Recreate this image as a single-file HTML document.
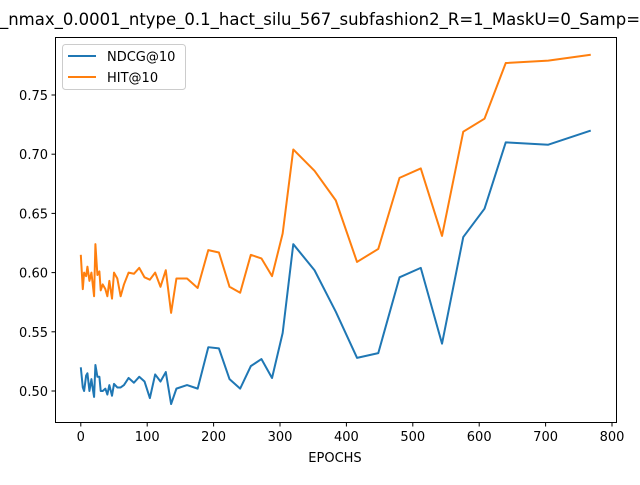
<!DOCTYPE html>
<html><head><meta charset="utf-8"><style>
body{margin:0;background:#fff;}
svg text{font-family:"DejaVu Sans","Liberation Sans",sans-serif;}
</style></head><body>
<svg id="chart" width="640" height="480" xmlns="http://www.w3.org/2000/svg">
<rect width="640" height="480" fill="#fff"/>
<text x="320" y="25" font-size="16.5" text-anchor="middle">_nmax_0.0001_ntype_0.1_hact_silu_567_subfashion2_R=1_MaskU=0_Samp=</text>
<g id="plot"></g>
<rect x="55.5" y="37.5" width="561" height="385" fill="none" stroke="#000" stroke-width="1"/>
<text x="335" y="462" font-size="13" text-anchor="middle">EPOCHS</text>
<g>
<rect x="62.5" y="44.5" width="123" height="45" rx="3" fill="#fff" fill-opacity="0.8" stroke="#ccc"/>
<line x1="68" y1="56" x2="96" y2="56" stroke="#1f77b4" stroke-width="2"/>
<text x="107" y="61" font-size="13">NDCG@10</text>
<line x1="68" y1="77" x2="96" y2="77" stroke="#ff7f0e" stroke-width="2"/>
<text x="107" y="82" font-size="13">HIT@10</text>
</g>
</svg>
<script>
const epochs=[0,3,5,8,10,13,16,18,20,22,25,28,30,33,37,40,43,47,50,55,60,65,72,80,88,96,104,112,120,128,136,144,160,176,192,208,224,240,256,272,288,304,320,352,384,416,448,480,512,544,576,608,640,704,768];
const ndcg=[0.520,0.503,0.500,0.513,0.515,0.500,0.510,0.502,0.495,0.522,0.512,0.512,0.500,0.500,0.502,0.497,0.505,0.496,0.506,0.503,0.503,0.505,0.511,0.507,0.512,0.508,0.494,0.514,0.508,0.516,0.489,0.502,0.505,0.502,0.537,0.536,0.510,0.502,0.521,0.527,0.511,0.549,0.624,0.602,0.567,0.528,0.532,0.596,0.604,0.540,0.630,0.654,0.710,0.708,0.720];
const hit=[0.615,0.586,0.600,0.597,0.605,0.593,0.600,0.590,0.580,0.624,0.598,0.601,0.585,0.590,0.586,0.580,0.593,0.578,0.600,0.595,0.580,0.590,0.600,0.599,0.604,0.596,0.594,0.600,0.588,0.602,0.566,0.595,0.595,0.587,0.619,0.617,0.588,0.583,0.615,0.612,0.597,0.633,0.704,0.686,0.661,0.609,0.620,0.680,0.688,0.631,0.719,0.730,0.777,0.779,0.784];
const xTicks=[0,100,200,300,400,500,600,700,800];
const yTicks=[0.50,0.55,0.60,0.65,0.70,0.75];
const NS='http://www.w3.org/2000/svg';
const g=document.getElementById('plot');
function X(v){return 80.8+v*(612-80.8)/800;}
function Y(v){return 391-(v-0.5)*1184;}
function mk(t,a){const e=document.createElementNS(NS,t);for(const k in a)e.setAttribute(k,a[k]);g.appendChild(e);return e;}
xTicks.forEach(t=>{
  const l=mk('line',{x1:X(t),x2:X(t),y1:422.5,y2:426.5,stroke:'#000'});
  
  
  const s=mk('text',{x:X(t),y:441,'font-size':13,'text-anchor':'middle'});
  s.textContent=t;
  
  
});
yTicks.forEach(t=>{
  const l=mk('line',{x1:51.5,x2:55.5,y1:Y(t),y2:Y(t),stroke:'#000'});
  
  
  const s=mk('text',{x:48,y:Y(t)+5,'font-size':13,'text-anchor':'end'});
  s.textContent=t.toFixed(2);
  
  
});
function line(vals,color,name){
  const p=mk('polyline',{points:epochs.map((e,i)=>X(e)+','+Y(vals[i])).join(' '),fill:'none',stroke:color,'stroke-width':2,'stroke-linejoin':'round'});
  
  
}
line(ndcg,'#1f77b4','ndcg-line');
line(hit,'#ff7f0e','hit-line');
</script>
</body></html>
